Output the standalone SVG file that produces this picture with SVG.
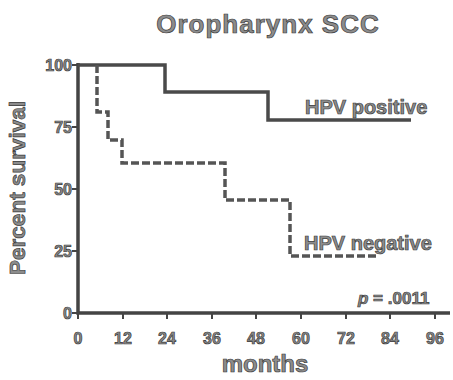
<svg xmlns="http://www.w3.org/2000/svg" width="453" height="380" viewBox="0 0 453 380">
<style>
text{font-family:"Liberation Sans",Arial,sans-serif;font-weight:bold;fill:#8c8c8c;stroke:#3a3a3a;stroke-width:0.7}
.ax{fill:none;stroke:#444;stroke-width:3.5}
.tick{fill:none;stroke:#444;stroke-width:2}
.pos{fill:none;stroke:#4a4a4a;stroke-width:3.5}
.neg{fill:none;stroke:#555;stroke-width:3.5;stroke-dasharray:8 3}
.lbl{font-size:16px}
</style>
<rect width="453" height="380" fill="#fff"/>
<g id="title"><text x="268" y="33" font-size="26" text-anchor="middle" letter-spacing="1">Oropharynx SCC</text></g>
<g id="axes">
<path class="ax" d="M78,63 V313 H450"/>
<path class="tick" d="M72,65 H78 M72,127 H78 M72,189 H78 M72,251 H78 M72,313 H78"/>
<path class="tick" d="M78,313 V319 M123,313 V319 M167,313 V319 M212,313 V319 M256,313 V319 M301,313 V319 M346,313 V319 M390,313 V319 M435,313 V319"/>
</g>
<g id="ylabels">
<text x="72" y="71" text-anchor="end" class="lbl">100</text>
<text x="72" y="133" text-anchor="end" class="lbl">75</text>
<text x="72" y="195" text-anchor="end" class="lbl">50</text>
<text x="72" y="257" text-anchor="end" class="lbl">25</text>
<text x="72" y="319" text-anchor="end" class="lbl">0</text>
</g>
<g id="xlabels">
<text x="78" y="344" text-anchor="middle" class="lbl">0</text>
<text x="123" y="344" text-anchor="middle" class="lbl">12</text>
<text x="167" y="344" text-anchor="middle" class="lbl">24</text>
<text x="212" y="344" text-anchor="middle" class="lbl">36</text>
<text x="256" y="344" text-anchor="middle" class="lbl">48</text>
<text x="301" y="344" text-anchor="middle" class="lbl">60</text>
<text x="346" y="344" text-anchor="middle" class="lbl">72</text>
<text x="390" y="344" text-anchor="middle" class="lbl">84</text>
<text x="435" y="344" text-anchor="middle" class="lbl">96</text>
</g>
<g id="xtitle"><text x="265" y="372" font-size="24" text-anchor="middle">months</text></g>
<g id="ytitle"><text transform="translate(25,188) rotate(-90)" font-size="22.5" text-anchor="middle">Percent survival</text></g>
<g id="connectors">
<path id="hpv-pos-curve" class="pos" d="M78,65 H165 V92 H268 V120 H411"/>
<path id="hpv-neg-curve" class="neg" d="M97,65 V112 H108 V140 H122 V163 H225 V200 H290 V256 H377"/>
</g>
<g id="hpv-positive"><text x="305" y="114" font-size="20">HPV positive</text></g>
<g id="hpv-negative"><text x="304" y="250" font-size="20">HPV negative</text></g>
<g id="pvalue"><text x="358" y="304" font-size="17"><tspan font-style="italic">p</tspan> = .0011</text></g>
</svg>
